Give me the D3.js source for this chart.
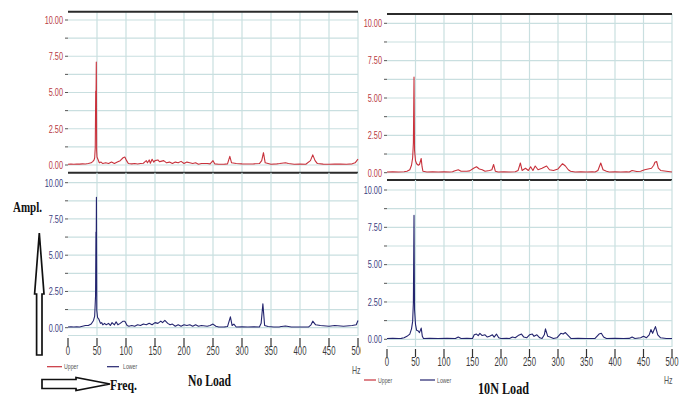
<!DOCTYPE html>
<html>
<head>
<meta charset="utf-8">
<script src="https://cdn.jsdelivr.net/npm/d3@7"></script>
<style>
  html, body { margin: 0; padding: 0; background: #fff; }
  svg { display: block; }
  .tick-label { font-family: "Liberation Sans", Arial, "DejaVu Sans", sans-serif; }
  .bold-serif { font-family: "Liberation Serif", "DejaVu Serif", serif; font-weight: bold; }
</style>
</head>
<body>
<svg id="chart" width="680" height="397"></svg>
<script>
// ---------------- DATA ----------------
const yTicks = [0, 2.5, 5, 7.5, 10];
const yMinorTicks = [0, 1.25, 2.5, 3.75, 5, 6.25, 7.5, 8.75, 10];
const xTicks = [0, 50, 100, 150, 200, 250, 300, 350, 400, 450, 500];
const legendLabels = ["Upper", "Lower"];
const panelTitles = ["No Load", "10N Load"];

// No Load - Upper sensor (Hz, amplitude)
const noLoadUpper = [
  [0,0.05],[5,0.06],[10,0.05],[15,0.07],[20,0.06],[25,0.08],[30,0.07],[35,0.1],[40,0.15],[43,0.25],
  [45,0.35],[46,0.5],[47,1.2],[47.8,5.1],[48.2,4.0],[48.8,7.1],[49.4,1.0],[50,0.55],[51,0.45],[54,0.15],
  [57,0.2],[60,0.1],[65,0.15],[70,0.1],[75,0.2],[80,0.1],[85,0.2],[90,0.3],[95,0.5],[98,0.55],
  [101,0.3],[104,0.1],[110,0.08],[115,0.1],[120,0.07],[125,0.1],[130,0.12],[132,0.2],[135,0.3],[137,0.15],
  [140,0.35],[142,0.12],[145,0.4],[148,0.2],[150,0.3],[155,0.35],[158,0.22],[160,0.25],[165,0.3],[170,0.15],
  [175,0.2],[180,0.1],[185,0.2],[190,0.15],[195,0.25],[200,0.1],[205,0.2],[210,0.15],[215,0.1],[220,0.15],
  [225,0.05],[230,0.1],[240,0.1],[245,0.08],[250,0.3],[253,0.08],[260,0.05],[270,0.06],[275,0.08],[279,0.6],
  [282,0.15],[290,0.1],[300,0.08],[310,0.07],[320,0.08],[330,0.1],[334,0.3],[337,0.85],[340,0.15],[350,0.05],
  [360,0.08],[365,0.1],[375,0.15],[380,0.1],[390,0.05],[400,0.06],[410,0.05],[418,0.3],[422,0.7],[426,0.3],
  [430,0.1],[440,0.06],[450,0.05],[460,0.07],[470,0.06],[480,0.05],[490,0.08],[495,0.15],[500,0.4]
];

// No Load - Lower sensor
const noLoadLower = [
  [0,0.05],[5,0.06],[10,0.05],[15,0.06],[20,0.05],[25,0.1],[30,0.15],[35,0.15],[40,0.25],[44,0.5],
  [46,0.8],[47.5,2.2],[48.2,6.6],[48.6,5.0],[49,9.0],[49.6,1.2],[51,0.7],[53,0.6],[56,0.3],[58,0.35],
  [60,0.2],[63,0.3],[66,0.2],[70,0.3],[73,0.15],[76,0.35],[80,0.2],[83,0.4],[86,0.2],[90,0.3],
  [95,0.45],[98,0.45],[102,0.15],[105,0.1],[110,0.15],[115,0.1],[120,0.2],[125,0.15],[130,0.25],[135,0.2],
  [140,0.3],[145,0.2],[150,0.35],[155,0.3],[160,0.45],[163,0.35],[167,0.5],[172,0.3],[176,0.2],[180,0.25],
  [185,0.1],[190,0.2],[195,0.1],[200,0.2],[205,0.15],[210,0.2],[215,0.1],[220,0.2],[225,0.1],[230,0.15],
  [240,0.1],[245,0.15],[250,0.25],[255,0.1],[260,0.05],[270,0.06],[275,0.08],[280,0.75],[283,0.15],[286,0.25],
  [290,0.05],[300,0.06],[310,0.05],[320,0.06],[330,0.05],[333,0.3],[336,1.65],[339,0.15],[345,0.08],[355,0.05],
  [365,0.06],[375,0.12],[385,0.05],[400,0.05],[415,0.06],[419,0.2],[422,0.45],[427,0.2],[435,0.15],[450,0.1],
  [460,0.15],[475,0.1],[490,0.15],[497,0.2],[500,0.5]
];

// 10N Load - Upper sensor
const loadUpper = [
  [0,0.05],[10,0.06],[20,0.05],[30,0.06],[35,0.1],[40,0.2],[43,0.5],[45,1.0],[46.3,2.0],[47.4,6.4],
  [48.3,1.5],[50,0.8],[52,0.6],[55,0.5],[57,0.55],[60,0.95],[61.5,0.4],[63,0.1],[70,0.05],[80,0.06],
  [90,0.05],[100,0.06],[110,0.05],[115,0.06],[118,0.12],[125,0.2],[130,0.1],[140,0.1],[145,0.12],[152,0.3],
  [157,0.4],[162,0.25],[167,0.2],[172,0.1],[180,0.15],[184,0.2],[187,0.55],[190,0.1],[195,0.05],[205,0.06],
  [215,0.05],[225,0.06],[230,0.15],[234,0.65],[237,0.15],[243,0.3],[248,0.15],[252,0.4],[256,0.15],[260,0.45],
  [265,0.2],[272,0.3],[280,0.45],[285,0.2],[292,0.15],[300,0.25],[308,0.6],[313,0.45],[318,0.2],[322,0.1],
  [330,0.05],[340,0.06],[350,0.05],[360,0.06],[365,0.05],[370,0.15],[375,0.65],[379,0.2],[385,0.1],[390,0.05],
  [400,0.06],[410,0.05],[420,0.06],[425,0.05],[430,0.15],[438,0.08],[445,0.1],[452,0.2],[458,0.25],[464,0.3],
  [468,0.5],[470,0.7],[473,0.75],[476,0.3],[480,0.15],[490,0.1],[500,0.05]
];

// 10N Load - Lower sensor
const loadLower = [
  [0,0.05],[10,0.06],[20,0.05],[25,0.06],[30,0.1],[35,0.2],[40,0.35],[43,0.7],[45,1.2],[46.3,2.5],
  [47.4,8.3],[48.3,2.0],[50,1.0],[52,0.6],[55,0.55],[57,0.45],[60,0.75],[62,0.2],[64,0.05],[75,0.06],
  [90,0.05],[105,0.06],[120,0.05],[125,0.15],[130,0.05],[140,0.06],[150,0.05],[153,0.3],[157,0.35],[160,0.25],
  [163,0.4],[167,0.25],[172,0.3],[176,0.15],[180,0.2],[185,0.3],[188,0.15],[192,0.35],[196,0.1],[200,0.05],
  [210,0.06],[215,0.05],[220,0.15],[225,0.1],[230,0.25],[236,0.35],[240,0.15],[245,0.1],[250,0.3],[255,0.35],
  [258,0.2],[263,0.3],[268,0.1],[272,0.05],[276,0.3],[278,0.7],[282,0.2],[286,0.15],[292,0.05],[298,0.1],
  [305,0.4],[309,0.35],[313,0.45],[318,0.25],[323,0.05],[335,0.06],[350,0.05],[365,0.06],[372,0.35],[376,0.4],
  [380,0.15],[385,0.05],[400,0.06],[415,0.05],[425,0.06],[430,0.15],[435,0.05],[445,0.1],[450,0.2],[455,0.1],
  [460,0.3],[463,0.65],[466,0.4],[471,0.85],[475,0.3],[480,0.1],[490,0.05],[500,0.05]
];

// ---------------- STYLE / LAYOUT ----------------
const RED = "#c8323c";
const RED_LABEL = "#b83a44";
const BLUE = "#23246e";
const BLUE_LABEL = "#3b3d80";
const GRID = "#c9dfe0";
const FRAME = "#2b2b2b";

const panels = [
  { x0: 68,  x1: 358, top: 11.7,  bot: 172.7, py0: 165,   py10: 20,    data: noLoadUpper, color: RED,  lab: RED_LABEL,  frameTop: true, frameBot: true,  xAxis: false, clip: 360 },
  { x0: 68,  x1: 358, top: 172.7, bot: 336,   py0: 327.7, py10: 182.7, data: noLoadLower, color: BLUE, lab: BLUE_LABEL, frameTop: false, frameBot: false, xAxis: true,  clip: 360,
    legendY: 366.7, legend: [[47, 62, 64], [107, 119, 123]], hz: [352, 374] },
  { x0: 387, x1: 672, top: 14,    bot: 180,   py0: 172.7, py10: 23.3,  data: loadUpper,  color: RED,  lab: RED_LABEL,  frameTop: true, frameBot: true,  xAxis: false, clip: 680 },
  { x0: 387, x1: 672, top: 180,   bot: 347,   py0: 339.3, py10: 190,   data: loadLower,  color: BLUE, lab: BLUE_LABEL, frameTop: false, frameBot: false, xAxis: true,  clip: 680,
    legendY: 380, legend: [[364, 376, 378], [420, 435, 437]], hz: [664, 384] }
];

const svg = d3.select("#chart");
const defs = svg.append("defs");
defs.append("clipPath").attr("id", "clipLeft").append("rect").attr("x", 0).attr("y", 0).attr("width", 361).attr("height", 397);

// condensed text helper
function narrowText(sel, sx) {
  return sel.attr("transform", function () {
    const x = +this.getAttribute("data-x"), y = +this.getAttribute("data-y");
    return `translate(${x},${y}) scale(${sx},1)`;
  });
}

panels.forEach((p, i) => {
  const g = svg.append("g");
  if (p.clip < 680) g.attr("clip-path", "url(#clipLeft)");

  const x = d3.scaleLinear().domain([0, 500]).range([p.x0, p.x1]);
  const y = d3.scaleLinear().domain([0, 10]).range([p.py0, p.py10]);

  // horizontal grid
  g.append("g").selectAll("line").data(yMinorTicks).join("line")
    .attr("x1", p.x0).attr("x2", p.x1)
    .attr("y1", d => y(d)).attr("y2", d => y(d))
    .attr("stroke", GRID).attr("stroke-width", 1.2);
  if (p.xAxis) {
    g.append("line").attr("x1", p.x0).attr("x2", p.x1).attr("y1", p.bot - 0.5).attr("y2", p.bot - 0.5)
      .attr("stroke", GRID).attr("stroke-width", 1.2);
  }
  // vertical grid
  g.append("g").selectAll("line").data(xTicks.slice(1)).join("line")
    .attr("x1", d => x(d)).attr("x2", d => x(d))
    .attr("y1", p.top).attr("y2", p.bot)
    .attr("stroke", GRID).attr("stroke-width", 1.2);

  // y ticks
  g.append("g").selectAll("line").data(yMinorTicks).join("line")
    .attr("x1", p.x0 - 3).attr("x2", p.x0)
    .attr("y1", d => y(d)).attr("y2", d => y(d))
    .attr("stroke", "#555").attr("stroke-width", 1);
  narrowText(g.append("g").selectAll("text").data(yTicks).join("text")
    .attr("class", "tick-label")
    .attr("data-x", p.x0 - 5).attr("data-y", d => y(d) + 3.8)
    .attr("text-anchor", "end").attr("font-size", 10.5)
    .attr("fill", p.lab)
    .text(d => d3.format(".2f")(d)), 0.7);

  // frames
  if (p.frameTop) g.append("line").attr("x1", p.x0).attr("x2", p.x1).attr("y1", p.top).attr("y2", p.top)
      .attr("stroke", FRAME).attr("stroke-width", 2);
  if (p.frameBot) g.append("line").attr("x1", p.x0).attr("x2", p.x1).attr("y1", p.bot).attr("y2", p.bot)
      .attr("stroke", FRAME).attr("stroke-width", 2);

  // spectrum line
  const line = d3.line().x(d => x(d[0])).y(d => y(d[1]));
  g.append("path").datum(p.data)
    .attr("fill", "none").attr("stroke", p.color).attr("stroke-width", 1.1)
    .attr("stroke-linejoin", "round")
    .attr("d", line);

  if (p.xAxis) {
    g.append("g").selectAll("line").data(xTicks).join("line")
      .attr("x1", d => x(d)).attr("x2", d => x(d))
      .attr("y1", p.bot + 2).attr("y2", p.bot + 10)
      .attr("stroke", "#333").attr("stroke-width", 1.2);
    narrowText(g.append("g").selectAll("text").data(xTicks).join("text")
      .attr("class", "tick-label")
      .attr("data-x", d => x(d)).attr("data-y", p.bot + 19)
      .attr("text-anchor", "middle").attr("font-size", 12.5)
      .attr("fill", "#3a3a3a")
      .text(d => d), 0.62);
    // legend
    const cols = [RED, BLUE];
    p.legend.forEach((L, k) => {
      g.append("line").attr("x1", L[0]).attr("x2", L[1]).attr("y1", p.legendY).attr("y2", p.legendY)
        .attr("stroke", cols[k]).attr("stroke-width", 1.2);
      narrowText(g.append("text").attr("class", "tick-label").attr("data-x", L[2]).attr("data-y", p.legendY + 2.5)
        .attr("font-size", 7).attr("fill", "#555").text(legendLabels[k]), 0.75);
    });
    narrowText(g.append("text").attr("class", "tick-label").attr("data-x", p.hz[0]).attr("data-y", p.hz[1])
      .attr("font-size", 10).attr("fill", "#555").text("Hz"), 0.7);
  }
});

// titles
svg.append("text").attr("class", "bold-serif").attr("x", 188).attr("y", 386)
  .attr("font-size", 17).attr("textLength", 43).attr("lengthAdjust", "spacingAndGlyphs")
  .attr("fill", "#111").text(panelTitles[0]);
svg.append("text").attr("class", "bold-serif").attr("x", 478).attr("y", 394)
  .attr("font-size", 17).attr("textLength", 51).attr("lengthAdjust", "spacingAndGlyphs")
  .attr("fill", "#111").text(panelTitles[1]);

// Ampl. label + up arrow
svg.append("text").attr("class", "bold-serif").attr("x", 13).attr("y", 212)
  .attr("font-size", 15).attr("textLength", 29).attr("lengthAdjust", "spacingAndGlyphs")
  .attr("fill", "#111").text("Ampl.");
svg.append("path")
  .attr("d", "M39.3,233 L44,294 L42,294 L42,355 L36.6,355 L36.6,294 L34.6,294 Z")
  .attr("fill", "#fff").attr("stroke", "#111").attr("stroke-width", 1.7).attr("stroke-linejoin", "miter");

// Freq. label + right arrow
svg.append("path")
  .attr("d", "M42,379.5 L76,379.5 L76,377.5 L110,384 L76,390.5 L76,388.5 L42,388.5 Z")
  .attr("fill", "#fff").attr("stroke", "#111").attr("stroke-width", 1.7).attr("stroke-linejoin", "miter");
svg.append("text").attr("class", "bold-serif").attr("x", 110).attr("y", 390)
  .attr("font-size", 15).attr("textLength", 27).attr("lengthAdjust", "spacingAndGlyphs")
  .attr("fill", "#111").text("Freq.");
</script>
</body>
</html>
